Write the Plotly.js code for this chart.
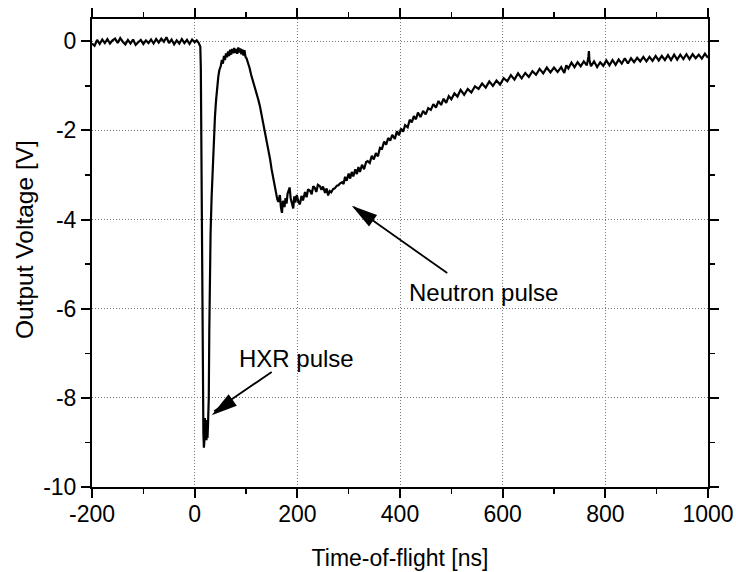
<!DOCTYPE html>
<html>
<head>
<meta charset="utf-8">
<script src="https://cdn.plot.ly/plotly-3.0.1.min.js"></script>
<style>html,body{margin:0;padding:0;background:#fff;}#chart{width:736px;height:572px;}</style>
</head>
<body>
<div id="chart"></div>
<script>
// Time-of-flight [ns]
const tNs = [
 -200,-195,-190,-185,-180,-175,-170,-165,-160,-155,
 -150,-145,-140,-135,-130,-125,-120,-115,-110,-105,
 -100,-95,-90,-85,-80,-75,-70,-65,-60,-55,
 -50,-45,-40,-35,-30,-25,-20,-15,-10,-5,
 0,4,8,11,12,13,14,15,16,17,
 18,19,20,21,22,23,24,25,26,27.5,
 28.5,29.5,31,33,35,37,39.5,41.5,43.5,46,
 48,51,53,55,57,59,61,63,65,67,
 69,71,73,75,77,79,81,83,85,87,
 89,91,93,95,97,99,101,104,107,110,
 114,117,120,124,127,130,134,137,140,144,
 147,150,153,156,159,161,163,166,168,170,
 172,175,177,179,181,183,185,187,189,192,
 194,196,199,202,205,208,211,215,218,221,
 225,228,231,234,237,240,244,247,250,254,
 257,260,263,266,270,273,277,280,283,287,
 290,293,296,300,303,306,309,313,316,319,
 322,326,330,334,337,341,345,349,353,357,
 361,365,369,373,377,381,385,390,394,398,
 402,406,410,415,419,423,427,431,435,440,
 445,450,455,460,465,470,475,480,485,490,
 495,500,506,512,518,525,532,539,546,553,
 560,567,574,581,588,595,602,609,616,623,
 630,637,644,651,658,665,672,679,686,693,
 700,707,714,720,724,728,734,740,746,752,
 758,764,767,768,769,772,778,784,790,796,
 802,808,814,820,826,832,838,844,850,856,
 862,868,874,880,886,892,898,904,910,916,
 922,928,934,940,946,952,958,964,970,976,
 982,988,994,1000
];
// Output Voltage [V]
const vOut = [
 -0.05,-0.10,0.03,-0.06,0.04,-0.04,0.05,-0.05,0.02,0.06,
 -0.04,0.07,-0.01,-0.07,0.03,-0.05,0.04,-0.08,-0.02,0.03,
 -0.06,0.02,-0.04,0.04,-0.05,0.05,-0.03,0.06,-0.01,0.09,
 -0.04,0.04,-0.07,0.02,-0.05,0.05,-0.04,0.03,-0.06,0.04,
 -0.02,0.02,-0.04,-0.12,-0.6,-2.5,-5.0,-6.9,-8.0,-8.8,
 -9.12,-8.95,-8.45,-8.9,-8.5,-8.95,-8.55,-8.9,-8.6,-8.0,
 -6.5,-5.4,-4.3,-3.5,-2.8,-2.2,-1.7,-1.35,-1.02,-0.8,
 -0.65,-0.55,-0.42,-0.50,-0.33,-0.42,-0.27,-0.36,-0.23,-0.33,
 -0.19,-0.30,-0.17,-0.27,-0.15,-0.26,-0.17,-0.28,-0.14,-0.25,
 -0.16,-0.29,-0.18,-0.32,-0.20,-0.35,-0.38,-0.48,-0.6,-0.75,
 -0.9,-1.02,-1.12,-1.31,-1.45,-1.62,-1.84,-2.0,-2.2,-2.43,
 -2.65,-2.88,-3.08,-3.26,-3.45,-3.55,-3.6,-3.45,-3.72,-3.85,
 -3.58,-3.72,-3.52,-3.64,-3.42,-3.32,-3.28,-3.52,-3.62,-3.75,
 -3.48,-3.62,-3.45,-3.6,-3.66,-3.47,-3.57,-3.38,-3.5,-3.32,
 -3.36,-3.43,-3.25,-3.29,-3.38,-3.22,-3.25,-3.33,-3.26,-3.4,
 -3.3,-3.46,-3.36,-3.39,-3.31,-3.3,-3.24,-3.23,-3.19,-3.16,
 -3.2,-3.04,-3.13,-2.97,-3.08,-2.93,-3.03,-2.87,-2.98,-2.82,
 -2.93,-2.77,-2.87,-2.71,-2.69,-2.73,-2.57,-2.65,-2.51,-2.58,
 -2.39,-2.41,-2.25,-2.32,-2.17,-2.23,-2.1,-2.19,-2.02,-2.11,
 -1.96,-2.03,-1.88,-1.93,-1.76,-1.82,-1.68,-1.75,-1.6,-1.7,
 -1.56,-1.64,-1.5,-1.54,-1.41,-1.49,-1.34,-1.43,-1.29,-1.38,
 -1.23,-1.3,-1.17,-1.24,-1.09,-1.2,-1.07,-1.15,-1.01,-1.07,
 -0.95,-1.04,-0.9,-1.0,-0.88,-0.97,-0.83,-0.9,-0.76,-0.86,
 -0.72,-0.83,-0.71,-0.8,-0.67,-0.75,-0.62,-0.72,-0.59,-0.7,
 -0.59,-0.69,-0.58,-0.71,-0.54,-0.61,-0.48,-0.58,-0.47,-0.56,
 -0.45,-0.54,-0.35,-0.22,-0.42,-0.56,-0.45,-0.58,-0.47,-0.55,
 -0.43,-0.54,-0.42,-0.53,-0.41,-0.5,-0.38,-0.5,-0.38,-0.47,
 -0.37,-0.45,-0.35,-0.45,-0.35,-0.44,-0.33,-0.43,-0.33,-0.42,
 -0.31,-0.42,-0.3,-0.41,-0.3,-0.4,-0.29,-0.4,-0.29,-0.38,
 -0.3,-0.39,-0.28,-0.37
];
const xTickVals = [-200, 0, 200, 400, 600, 800, 1000];
const xTickText = ['-200', '0', '200', '400', '600', '800', '1000'];
const yTickVals = [-10, -8, -6, -4, -2, 0];
const yTickText = ['-10', '-8', '-6', '-4', '-2', '0'];
const labelTexts = ['Neutron pulse', 'HXR pulse'];
const axisTitles = ['Time-of-flight [ns]', 'Output Voltage [V]'];

const FONT = 'Liberation Sans, Arial, Helvetica, sans-serif';
const FS = 23;

const trace = {
  x: tNs, y: vOut, type: 'scatter', mode: 'lines',
  line: {color: '#000', width: 2.2}, hoverinfo: 'skip'
};

function axisBase() {
  return {
    showline: true, linecolor: '#000', linewidth: 2, mirror: 'ticks',
    ticks: 'outside', ticklen: 9, tickwidth: 2, tickcolor: '#000',
    showgrid: true, gridcolor: '#7a7a7a', gridwidth: 1, griddash: '1px,2px',
    zeroline: false, tickmode: 'array',
    tickfont: {family: FONT, size: FS, color: '#000'},
    automargin: false, fixedrange: true
  };
}

const xaxis = Object.assign(axisBase(), {
  range: [-200, 1000], tickvals: xTickVals, ticktext: xTickText,
  ticklabelstandoff: -4,
  minor: {tickmode: 'linear', tick0: 0, dtick: 100, ticks: 'outside', ticklen: 5, tickwidth: 1.5, tickcolor: '#000', showgrid: false},
  title: {text: axisTitles[0], font: {family: FONT, size: FS, color: '#000'}, standoff: 24}
});
const yaxis = Object.assign(axisBase(), {
  range: [-10, 0.5], tickvals: yTickVals, ticktext: yTickText,
  minor: {tickmode: 'linear', tick0: 0, dtick: 1, ticks: 'outside', ticklen: 5, tickwidth: 1.5, tickcolor: '#000', showgrid: false}
});

const shapes = [
  // Neutron pulse arrow: shaft and head
  {type: 'line', xref: 'x', yref: 'y', x0: 492, y0: -5.20, x1: 310, y1: -3.72, line: {color: '#000', width: 1.8}},
  {type: 'path', xref: 'x', yref: 'y', xsizemode: 'pixel', ysizemode: 'pixel', xanchor: 306, yanchor: -3.69,
   path: 'M0,0 L17.3,-20.7 L25.3,-9.3 Z', fillcolor: '#000', line: {width: 0}},
  // HXR pulse arrow: shaft and head
  {type: 'line', xref: 'x', yref: 'y', x0: 150, y0: -7.42, x1: 38, y1: -8.3, line: {color: '#000', width: 1.8}},
  {type: 'path', xref: 'x', yref: 'y', xsizemode: 'pixel', ysizemode: 'pixel', xanchor: 33, yanchor: -8.39,
   path: 'M0,0 L25.2,9.5 L17.0,20.9 Z', fillcolor: '#000', line: {width: 0}}
];

const annotations = [
  {x: 562, y: -5.63, xref: 'x', yref: 'y', text: labelTexts[0], showarrow: false,
   font: {family: FONT, size: 24, color: '#000'}, xanchor: 'center', yanchor: 'middle'},
  {x: 198, y: -7.11, xref: 'x', yref: 'y', text: labelTexts[1], showarrow: false,
   font: {family: FONT, size: 24, color: '#000'}, xanchor: 'center', yanchor: 'middle'},
  {x: (24 - 92) / 616, y: (487 - 240) / 468, xref: 'paper', yref: 'paper', text: axisTitles[1], showarrow: false,
   textangle: -90, font: {family: FONT, size: 24.5, color: '#000'}, xanchor: 'center', yanchor: 'middle'}
];

const layout = {
  width: 736, height: 572,
  margin: {l: 92, r: 28, t: 19, b: 85, pad: 0},
  paper_bgcolor: '#fff', plot_bgcolor: '#fff',
  showlegend: false,
  font: {family: FONT, size: FS, color: '#000'},
  xaxis: xaxis, yaxis: yaxis,
  shapes: shapes, annotations: annotations
};

Plotly.newPlot('chart', [trace], layout, {staticPlot: true, displayModeBar: false});
</script>
</body>
</html>
